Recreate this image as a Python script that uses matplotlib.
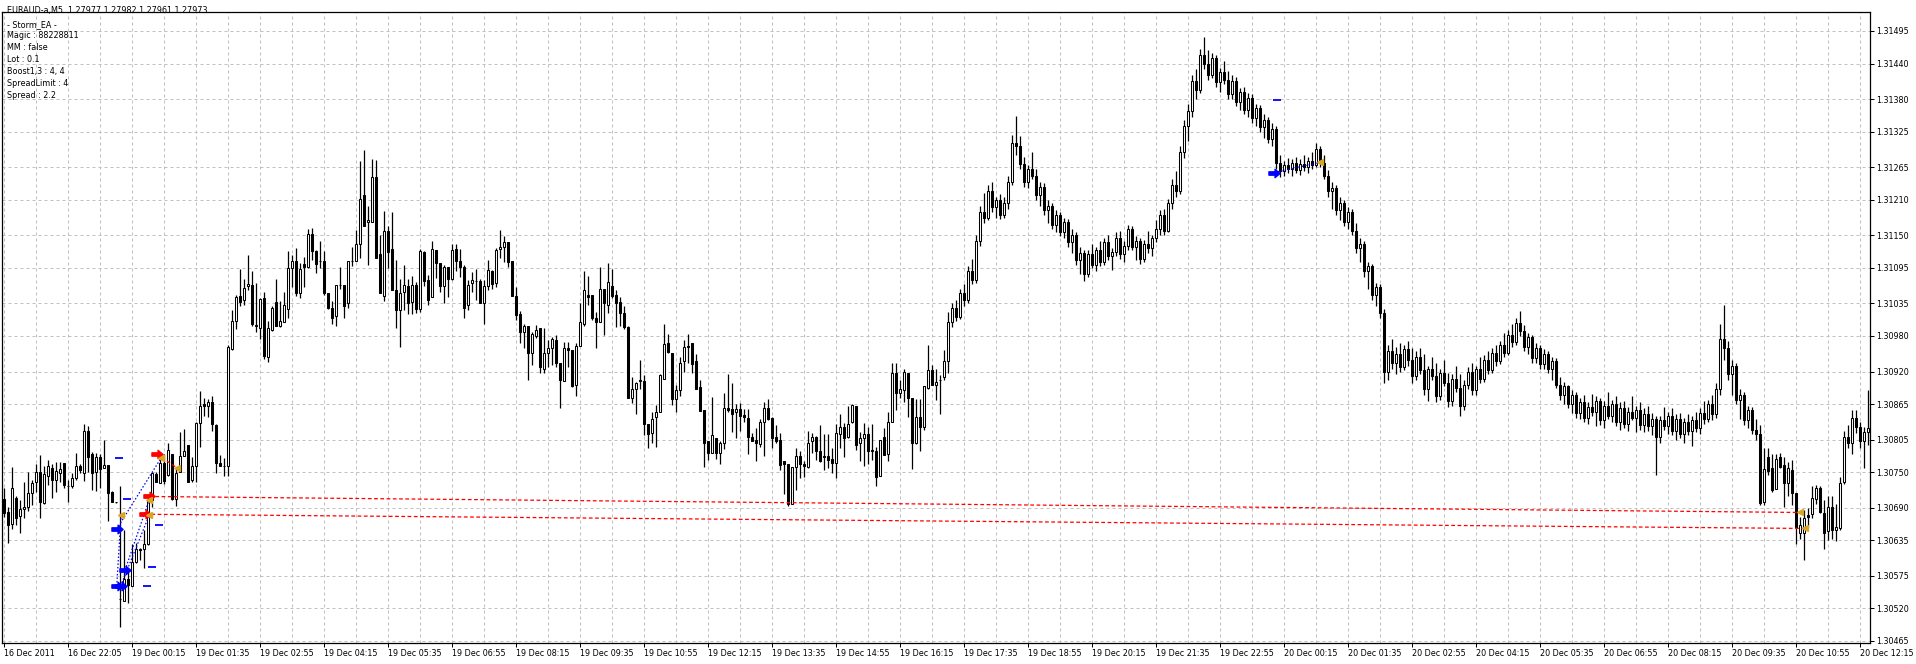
import matplotlib
matplotlib.use('Agg')
import matplotlib.pyplot as plt
import numpy as np
from matplotlib.path import Path
import matplotlib.transforms as mtransforms

W, H = 1916, 664
BASE = 1.30000
PT = 1e-5

# OHLC in points above 1.30000 (one entry per M5 bar)
opens = [704,683,662,707,676,688,691,715,734,750,
698,744,757,736,748,765,726,726,740,761,
748,820,781,751,776,757,762,717,699,536,
532,569,557,598,621,620,628,703,747,731,
766,745,780,704,750,778,796,737,760,833,
865,861,868,829,766,760,760,958,1005,1048,
1040,1064,1066,999,993,1044,945,990,1037,996,
1003,1026,1094,1107,1053,1102,1097,1152,1124,1106,
1106,1053,1028,1013,1066,1066,1035,1106,1106,1135,
1218,1172,1173,1248,1118,1048,1157,1127,1058,1024,
1055,1064,1038,1066,1026,1121,1075,1046,1125,1104,
1065,1096,1076,1127,1107,1097,1032,1070,1073,1073,
1035,1065,1090,1070,1127,1131,1139,1107,1047,1017,
987,997,952,980,994,924,951,959,973,934,
904,959,956,898,963,1001,1049,1049,1010,1004,
1059,1033,1064,1049,1037,1018,995,876,890,906,
904,832,816,844,851,907,968,952,874,889,
937,963,968,938,893,855,803,782,808,782,
799,858,856,851,857,847,841,810,804,797,
834,858,841,809,804,769,763,697,758,777,
763,759,802,809,786,777,777,772,766,814,
826,809,834,861,799,808,814,787,786,744,
809,780,835,917,883,889,917,875,800,843,
826,892,923,898,906,910,937,
1003,1028,1012,1052,1040,1090,1075,1140,1190,1180,
1225,1198,1210,1185,1205,1240,1305,1300,1270,1240,
1262,1250,1218,1232,1192,1200,1168,1185,1155,1172,
1138,1150,1108,1120,1085,1118,1100,1125,1105,1138,
1115,1122,1145,1118,1132,1160,1130,1140,1110,1135,
1128,1145,1160,1185,1158,1205,1235,1225,1290,1335,
1360,1410,1395,1455,1440,1420,1450,1408,1425,1412,
1388,1410,1375,1392,1362,1382,1348,1365,1332,1345,
1312,1330,1272,1258,1268,1262,1272,1260,1270,1265,
1275,1268,1295,1272,1250,1225,1230,1192,1205,1172,
1190,1158,1128,1135,1090,1098,1050,1062,1018,920,
955,935,950,928,958,940,912,945,922,890,
925,912,878,918,900,870,908,892,862,898,
920,888,925,908,940,922,952,938,965,952,
982,970,1002,988,962,978,942,960,932,950,
925,938,898,880,895,865,880,850,868,842,
860,852,870,838,862,845,865,835,858,832,
852,842,855,830,848,828,840,810,838,828,
845,820,840,815,835,820,838,825,850,840,
865,848,890,975,960,915,930,872,880,838,
855,822,
815,700,775,757,721,776,762,732,754,715,
647,647,678,679,704,723,681,650,691,653,
655,733,810,799,841,826,802,818]
highs = [723,692,758,709,703,734,751,736,763,779,
760,770,764,767,767,766,737,748,782,764,
832,828,784,782,781,805,762,719,700,727,
653,582,628,630,622,653,709,751,751,782,
781,799,781,756,818,823,796,776,835,887,
875,874,879,832,779,774,965,1024,1049,1093,
1076,1117,1090,1069,1044,1054,1005,1030,1076,1039,
1055,1124,1117,1129,1104,1114,1161,1162,1125,1140,
1124,1053,1039,1066,1097,1066,1106,1131,1159,1275,
1294,1199,1279,1277,1150,1191,1165,1190,1108,1076,
1099,1077,1082,1071,1126,1124,1083,1140,1125,1104,
1099,1096,1136,1135,1126,1100,1075,1088,1093,1077,
1075,1108,1092,1128,1159,1148,1139,1107,1063,1022,
1001,997,987,999,994,994,973,979,981,934,
969,969,956,968,1036,1089,1081,1049,1021,1096,
1059,1104,1093,1058,1045,1031,996,910,903,939,
914,832,851,863,915,1001,984,952,897,945,
973,984,968,950,905,855,803,877,808,802,
883,916,900,865,866,857,856,816,824,839,
868,873,844,830,816,769,763,758,791,785,
769,820,816,811,829,814,814,790,831,849,
833,861,865,861,818,833,827,831,793,805,
824,852,934,934,906,925,917,875,873,873,
896,965,931,924,914,956,1020,
1035,1040,1060,1068,1098,1110,1150,1200,1222,1235,
1240,1215,1220,1215,1250,1320,1352,1318,1282,1268,
1290,1262,1240,1238,1210,1205,1192,1190,1180,1178,
1160,1155,1130,1125,1125,1135,1130,1140,1145,1150,
1128,1155,1158,1140,1168,1165,1148,1145,1142,1158,
1150,1175,1192,1195,1212,1245,1258,1300,1345,1372,
1420,1430,1465,1485,1462,1458,1455,1432,1445,1428,
1420,1418,1398,1400,1390,1388,1372,1370,1355,1350,
1340,1335,1285,1275,1280,1278,1282,1278,1285,1282,
1290,1305,1300,1285,1260,1240,1235,1215,1210,1198,
1195,1170,1145,1140,1105,1102,1070,1068,1025,965,
975,962,968,965,972,960,955,960,950,930,
945,935,925,940,918,915,930,915,905,928,
935,930,945,948,955,960,965,972,985,990,
1000,1010,1022,998,985,982,968,965,958,955,
945,942,910,902,898,888,885,875,880,868,
882,878,875,870,885,872,878,868,870,860,
878,862,868,858,862,850,845,845,860,852,
858,848,850,842,848,845,852,858,870,872,
880,900,1000,1032,972,940,935,890,885,862,
860,840,
830,790,790,780,780,782,776,768,771,715,
675,686,689,726,728,726,703,709,709,697,
742,820,830,855,855,835,827,889]
lows = [675,630,654,660,647,672,685,694,716,673,
697,729,707,716,734,724,699,723,737,748,
735,751,720,719,723,757,668,699,698,489,
532,529,557,596,602,589,627,692,733,731,
730,744,703,693,750,778,733,733,733,793,
845,844,820,749,760,744,744,957,992,1030,
1032,1058,996,986,975,941,936,988,997,995,
1003,1010,1062,1048,1044,1063,1095,1108,1086,1094,
1049,1025,1000,997,1059,1010,1028,1098,1106,1111,
1166,1099,1173,1112,1053,1039,1095,1058,994,962,
1024,1017,1017,1018,1021,1064,1032,1045,1078,1055,
1036,1046,1075,1089,1080,1010,1024,1055,1041,1035,
1001,1058,1060,1062,1111,1105,1097,1048,1007,968,
959,906,931,976,918,917,928,931,928,858,
904,928,893,879,963,996,1032,1007,960,1004,
981,1018,1044,995,996,991,876,866,848,890,
812,790,799,793,851,907,951,863,852,878,
920,934,918,890,854,758,771,782,772,763,
789,852,818,808,820,834,781,803,769,793,
778,838,791,800,754,714,693,697,720,741,
742,757,782,771,768,754,757,748,741,790,
775,807,833,787,769,760,763,771,726,744,
779,769,835,855,875,869,844,755,797,786,
821,890,897,872,848,906,917,
995,1005,1008,1030,1035,1068,1070,1132,1170,1175,
1190,1180,1178,1180,1195,1235,1285,1262,1232,1230,
1245,1210,1200,1185,1170,1160,1155,1148,1145,1130,
1120,1100,1085,1072,1080,1095,1090,1098,1100,1108,
1092,1115,1110,1105,1125,1125,1108,1102,1105,1120,
1115,1138,1150,1150,1155,1195,1215,1220,1280,1310,
1350,1380,1390,1430,1412,1415,1400,1392,1405,1380,
1380,1368,1362,1355,1350,1340,1335,1325,1315,1305,
1300,1262,1248,1250,1255,1250,1255,1252,1258,1255,
1262,1265,1265,1245,1215,1195,1185,1175,1165,1160,
1150,1120,1105,1080,1060,1040,1030,1010,900,905,
925,915,920,922,930,900,905,915,880,870,
905,868,872,895,860,862,885,845,855,890,
880,880,900,902,915,918,930,932,945,948,
962,965,980,955,950,935,935,925,925,918,
905,892,872,865,858,850,842,840,835,832,
845,828,830,825,840,835,828,822,825,820,
838,818,822,818,820,812,745,800,822,815,
812,805,808,800,812,795,818,815,832,835,
838,842,880,940,905,880,865,840,830,825,
815,805,
694,695,745,717,721,757,692,709,695,628,
638,602,658,672,697,681,621,636,638,633,
652,730,790,781,816,790,757,796]
closes = [681,660,723,672,688,691,715,731,750,700,
747,761,736,752,755,728,726,740,761,753,
820,775,749,775,756,762,715,699,699,536,
569,559,598,620,618,628,702,748,734,766,
735,787,704,749,778,785,733,761,833,861,
861,868,832,766,760,760,961,1005,1045,1038,
1061,1068,1000,996,1042,947,993,1028,997,1005,
1033,1095,1107,1052,1093,1097,1152,1124,1101,1106,
1053,1027,1011,1066,1066,1030,1106,1106,1136,1212,
1166,1176,1248,1112,1053,1157,1122,1058,1024,1053,
1066,1035,1066,1026,1124,1073,1040,1126,1104,1065,
1097,1077,1125,1107,1097,1027,1066,1075,1073,1035,
1065,1091,1068,1125,1131,1138,1105,1048,1015,987,
997,952,983,990,927,951,959,975,934,906,
959,957,896,963,1003,1058,1046,1010,1004,1060,
1035,1071,1047,1036,1018,995,876,890,900,904,
832,814,839,851,914,966,953,874,889,934,
961,961,932,890,854,800,782,813,782,799,
858,855,848,856,845,844,810,803,799,835,
858,840,808,803,762,763,696,758,777,763,
761,800,809,786,769,775,771,766,816,826,
807,831,863,796,807,814,785,786,742,805,
779,835,917,883,890,920,875,799,843,826,
896,923,897,902,906,938,1003,
1028,1012,1052,1040,1090,1075,1140,1190,1180,1225,
1198,1210,1185,1205,1240,1305,1300,1270,1240,1262,
1250,1218,1232,1192,1200,1168,1185,1155,1172,1138,
1150,1108,1120,1085,1118,1100,1125,1105,1138,1115,
1122,1145,1118,1132,1160,1130,1140,1110,1135,1128,
1145,1160,1185,1158,1205,1235,1225,1290,1335,1360,
1410,1395,1455,1440,1420,1450,1408,1425,1412,1388,
1410,1375,1392,1362,1382,1348,1365,1332,1345,1312,
1330,1272,1258,1268,1262,1272,1260,1270,1265,1275,
1268,1295,1272,1250,1225,1230,1192,1205,1172,1190,
1158,1128,1135,1090,1098,1050,1062,1018,920,955,
935,950,928,958,940,912,945,922,890,925,
912,878,918,900,870,908,892,862,898,920,
888,925,908,940,922,952,938,965,952,982,
970,1002,988,962,978,942,960,932,950,925,
938,898,880,895,865,880,850,868,842,860,
852,870,838,862,845,865,835,858,832,852,
842,855,830,848,828,840,810,838,828,845,
820,840,815,835,820,838,825,850,840,865,
848,890,975,960,915,930,872,880,838,855,
822,815,
698,755,752,720,773,759,731,757,715,655,
661,672,675,706,723,683,647,691,652,657,
731,810,800,841,827,802,818,824]

ytick_vals = [1.31495,1.31440,1.31380,1.31325,1.31265,1.31210,1.31150,1.31095,
              1.31035,1.30980,1.30920,1.30865,1.30805,1.30750,1.30690,1.30635,
              1.30575,1.30520,1.30465]
xtick_labels = ["16 Dec 2011","16 Dec 22:05","19 Dec 00:15","19 Dec 01:35","19 Dec 02:55",
                "19 Dec 04:15","19 Dec 05:35","19 Dec 06:55","19 Dec 08:15","19 Dec 09:35",
                "19 Dec 10:55","19 Dec 12:15","19 Dec 13:35","19 Dec 14:55","19 Dec 16:15",
                "19 Dec 17:35","19 Dec 18:55","19 Dec 20:15","19 Dec 21:35","19 Dec 22:55",
                "20 Dec 00:15","20 Dec 01:35","20 Dec 02:55","20 Dec 04:15","20 Dec 05:35",
                "20 Dec 06:55","20 Dec 08:15","20 Dec 09:35","20 Dec 10:55","20 Dec 12:15"]
BARS_PER_LABEL = 16

info_lines = ["EURAUD-a,M5  1.27977 1.27982 1.27961 1.27973", "- Storm_EA -",
              "Magic : 88228811", "MM : false", "Lot : 0.1", "Boost1,3 : 4, 4",
              "SpreadLimit : 4", "Spread : 2.2"]

# trade marks (bar position, points above 1.30000)
buy_open = [(28.3, 654), (28.3, 558), (29.3, 558), (30.4, 585), (317.7, 1256)]
sell_open = [(38.3, 781), (36.4, 709), (35.4, 679)]
close_marks = [(39.4, 774), (43.4, 757), (36.4, 703), (36.4, 677), (29.4, 677),
               (449.1, 682), (450.4, 655), (329.0, 1273)]
level_marks = [(28.9, 774), (30.9, 705), (38.9, 660), (37.1, 590), (35.9, 558), (318.4, 1378)]
buy_lines = [((28.3, 654), (39.4, 774)), ((28.3, 558), (29.4, 677)),
             ((29.3, 558), (36.4, 677)), ((30.4, 585), (36.4, 703)),
             ((317.7, 1256), (329.0, 1273))]
sell_lines = [((38.3, 781), (43.4, 757)), ((36.4, 709), (449.1, 682)),
              ((35.4, 679), (450.4, 655))]

def P(v):
    return BASE + np.asarray(v, dtype=float) * PT

FS = 5.8
plt.rcParams['font.family'] = ['DejaVu Sans']

fig = plt.figure(figsize=(W / 100, H / 100), dpi=100)
fig.patch.set_facecolor('white')
L_px, R_px, T_px, B_px = 2, 1870, 12, 643
ax = fig.add_axes([L_px / W, 1 - B_px / H, (R_px - L_px) / W, (B_px - T_px) / H])
ax.set_facecolor('white')

n = len(opens)
x = np.arange(n)
o, h, l, c = P(opens), P(highs), P(lows), P(closes)
ax.vlines(x, l, h, color='black', linewidth=0.9, zorder=3)
bull = c >= o
ax.bar(x[bull], (c - o)[bull], bottom=o[bull], width=0.5, facecolor='white',
       edgecolor='black', linewidth=0.75, zorder=4)
ax.bar(x[~bull], (o - c)[~bull], bottom=c[~bull], width=0.5, facecolor='black',
       edgecolor='black', linewidth=0.75, zorder=4)

# trade lines
for (a, b) in buy_lines:
    ax.plot([a[0], b[0]], P([a[1], b[1]]), color='#0000ff', lw=0.9, ls=(0, (1.2, 1.6)), zorder=5)
for (a, b) in sell_lines:
    ax.plot([a[0], b[0]], P([a[1], b[1]]), color='#ff0000', lw=0.9, ls=(0, (3, 2)), zorder=5)

arrow = Path([(-1, -0.3), (0.1, -0.3), (0.1, -0.75), (1, 0), (0.1, 0.75), (0.1, 0.3), (-1, 0.3), (-1, -0.3)],
             [1, 2, 2, 2, 2, 2, 2, 79])
bx, by = zip(*buy_open)
ax.plot(bx, P(by), ls='none', marker=arrow, ms=8, color='#0000ff', zorder=6)
sx, sy = zip(*sell_open)
ax.plot(sx, P(sy), ls='none', marker=arrow, ms=8, color='#ff0000', zorder=6)
cx, cy = zip(*close_marks)
ax.plot(cx, P(cy), ls='none', marker='<', ms=5, color='#daa520', zorder=6)
lx, ly = zip(*level_marks)
ax.plot(lx, P(ly), ls='none', marker='_', ms=5.5, mew=1.3, color='#0000ff', zorder=6)

# axes scales
ax.set_xlim((L_px - 3.5) / 4, (R_px - 3.5) / 4)
ax.set_ylim(1.304616, 1.315270)

xt = np.arange(len(xtick_labels)) * BARS_PER_LABEL
ax.set_xticks(xt)
ax.set_xticklabels(xtick_labels, fontsize=FS)
ax.set_xticks(np.arange(0, 467, 8), minor=True)
shift = mtransforms.ScaledTranslation(2 / 100, 0, fig.dpi_scale_trans)
for lbl in ax.get_xticklabels():
    lbl.set_horizontalalignment('left')
    lbl.set_transform(lbl.get_transform() + shift)
ax.tick_params(axis='x', which='major', direction='out', length=3, width=0.72, pad=1.5, color='black')
ax.tick_params(axis='x', which='minor', length=0)

ax.yaxis.tick_right()
ax.set_yticks(ytick_vals)
ax.set_yticklabels([f"{v:.5f}" for v in ytick_vals], fontsize=FS)
ax.tick_params(axis='y', direction='out', length=3, width=0.72, pad=1.5, color='black')

ax.grid(True, which='major', axis='y', color='#c0c0c0', ls=(0, (3, 3)), lw=0.72, zorder=0)
ax.grid(True, which='both', axis='x', color='#c0c0c0', ls=(0, (3, 3)), lw=0.72, zorder=0)
ax.set_axisbelow(True)
for s in ax.spines.values():
    s.set_color('black')
    s.set_linewidth(0.9)

ys = [10, 24.5, 35.5, 47.5, 59.5, 71.5, 83.5, 95.5]
for t, yp in zip(info_lines, ys):
    fig.text(7 / W, 1 - yp / H, t, fontsize=FS, va='center', ha='left', color='black')

fig.savefig('out.png', dpi=100, facecolor='white')
